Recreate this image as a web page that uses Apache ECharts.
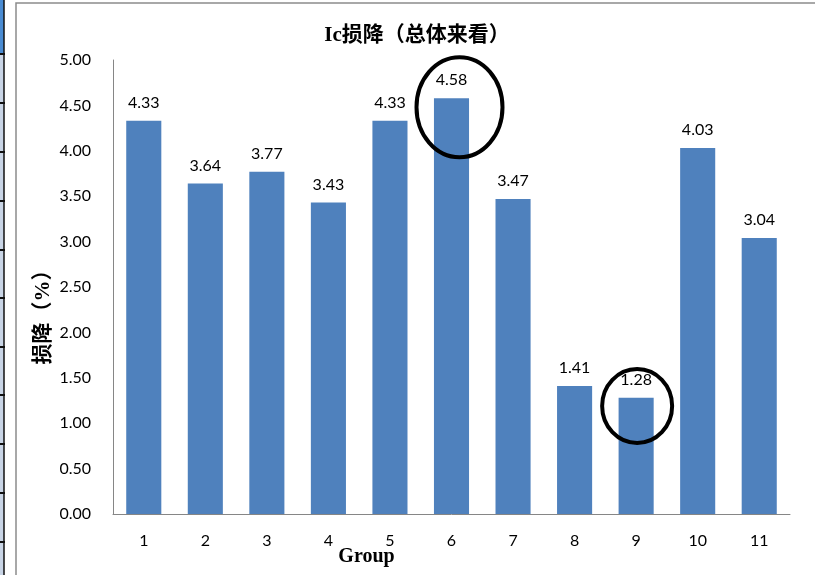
<!DOCTYPE html>
<html>
<head>
<meta charset="utf-8">
<script src="https://cdn.jsdelivr.net/npm/echarts@6/dist/echarts.min.js"></script>
<style>
  html, body { margin: 0; padding: 0; background: #fff; }
  #chart { width: 815px; height: 575px; }
</style>
</head>
<body>
<div id="chart"></div>
<script>
// Groups and their Ic loss (%) values
const groups = ['1', '2', '3', '4', '5', '6', '7', '8', '9', '10', '11'];
const lossValues = [4.33, 3.64, 3.77, 3.43, 4.33, 4.58, 3.47, 1.41, 1.28, 4.03, 3.04];
const yTicks = [0, 0.5, 1, 1.5, 2, 2.5, 3, 3.5, 4, 4.5, 5];
// Groups highlighted with a ring (the highest and the lowest loss)
const highlighted = ['6', '9'];

const chart = echarts.init(document.getElementById('chart'), null, { renderer: 'canvas' });

const labelFont = 'Lato, "Noto Sans", "Liberation Sans", sans-serif';
const titleFont = '"Liberation Serif", "Noto Sans CJK SC", serif';

const option = {
  animation: false,
  backgroundColor: '#ffffff',
  title: {
    text: 'Ic损降（总体来看）',
    left: 412,
    top: 20,
    textAlign: 'center',
    textStyle: { fontFamily: titleFont, fontWeight: 'bold', fontSize: 21, color: '#000' }
  },
  grid: { left: 113, right: 25, top: 60, bottom: 61, containLabel: false, outerBoundsMode: 'none' },
  xAxis: {
    type: 'category',
    data: groups,
    name: 'Group',
    nameLocation: 'middle',
    nameGap: 33,
    nameMoveOverlap: false,
    nameTextStyle: {
      fontFamily: titleFont, fontWeight: 'bold', fontSize: 20, color: '#000',
      padding: [0, 170, 0, 0]
    },
    axisLine: { lineStyle: { color: '#868686', width: 1 } },
    axisTick: { show: false },
    axisLabel: { fontFamily: labelFont, fontSize: 16, color: '#000', margin: 19 }
  },
  yAxis: {
    type: 'value',
    min: yTicks[0],
    max: yTicks[yTicks.length - 1],
    interval: yTicks[1] - yTicks[0],
    name: '损降（%）',
    nameLocation: 'middle',
    nameGap: 59,
    nameMoveOverlap: false,
    nameRotate: 90,
    nameTextStyle: {
      fontFamily: titleFont, fontWeight: 'bold', fontSize: 21, color: '#000',
      padding: [0, 50, 0, 0]
    },
    splitLine: { show: false },
    axisLine: { show: true, lineStyle: { color: '#868686', width: 1 } },
    axisTick: { show: false },
    axisLabel: {
      fontFamily: labelFont, fontSize: 16, color: '#000', margin: 22,
      formatter: v => v.toFixed(2)
    }
  },
  series: [{
    type: 'bar',
    data: lossValues,
    barCategoryGap: '43%',
    itemStyle: { color: '#4F81BD' },
    label: {
      show: true,
      position: 'top',
      distance: 10,
      fontFamily: labelFont,
      fontSize: 16,
      color: '#000',
      formatter: p => p.value.toFixed(2)
    }
  }]
};

chart.setOption(option);

// Frame around the chart, plus the worksheet strip along the left edge
function decorations() {
  const els = [];
  els.push({
    type: 'rect', silent: true, z: 100,
    shape: { x: 16, y: 3, width: 820, height: 600 },
    style: { fill: null, stroke: '#8c8c8c', lineWidth: 1.5 }
  });
  els.push({
    type: 'rect', silent: true, z: 100,
    shape: { x: 0, y: 0, width: 4, height: 575 },
    style: { fill: '#c9d5e6' }
  });
  els.push({
    type: 'rect', silent: true, z: 100,
    shape: { x: 0, y: 0, width: 4, height: 54 },
    style: { fill: '#4a8bd2' }
  });
  els.push({
    type: 'line', silent: true, z: 101,
    shape: { x1: 4, y1: 0, x2: 4, y2: 575 },
    style: { stroke: '#111', lineWidth: 1.5 }
  });
  const rowLines = [54, 103, 152, 201, 250, 298, 347, 395, 444, 493, 542];
  rowLines.forEach(y => els.push({
    type: 'line', silent: true, z: 101,
    shape: { x1: 0, y1: y, x2: 5, y2: y },
    style: { stroke: '#111', lineWidth: 2 }
  }));

  // Rings around highlighted bars, placed from the data values
  const rings = [
    { cat: highlighted[0], dx: 8, dy: -0.1, rx: 43, ry: 50 },
    { cat: highlighted[1], dx: 1, dy: -0.09, rx: 35, ry: 37 }
  ];
  rings.forEach(r => {
    const idx = groups.indexOf(r.cat);
    const p = chart.convertToPixel({ seriesIndex: 0 }, [idx, lossValues[idx] + r.dy]);
    els.push({
      type: 'ellipse', silent: true, z: 110,
      shape: { cx: p[0] + r.dx, cy: p[1], rx: r.rx, ry: r.ry },
      style: { fill: null, stroke: '#000', lineWidth: 4 }
    });
  });
  return els;
}

chart.setOption({ graphic: { elements: decorations() } });
</script>
</body>
</html>
